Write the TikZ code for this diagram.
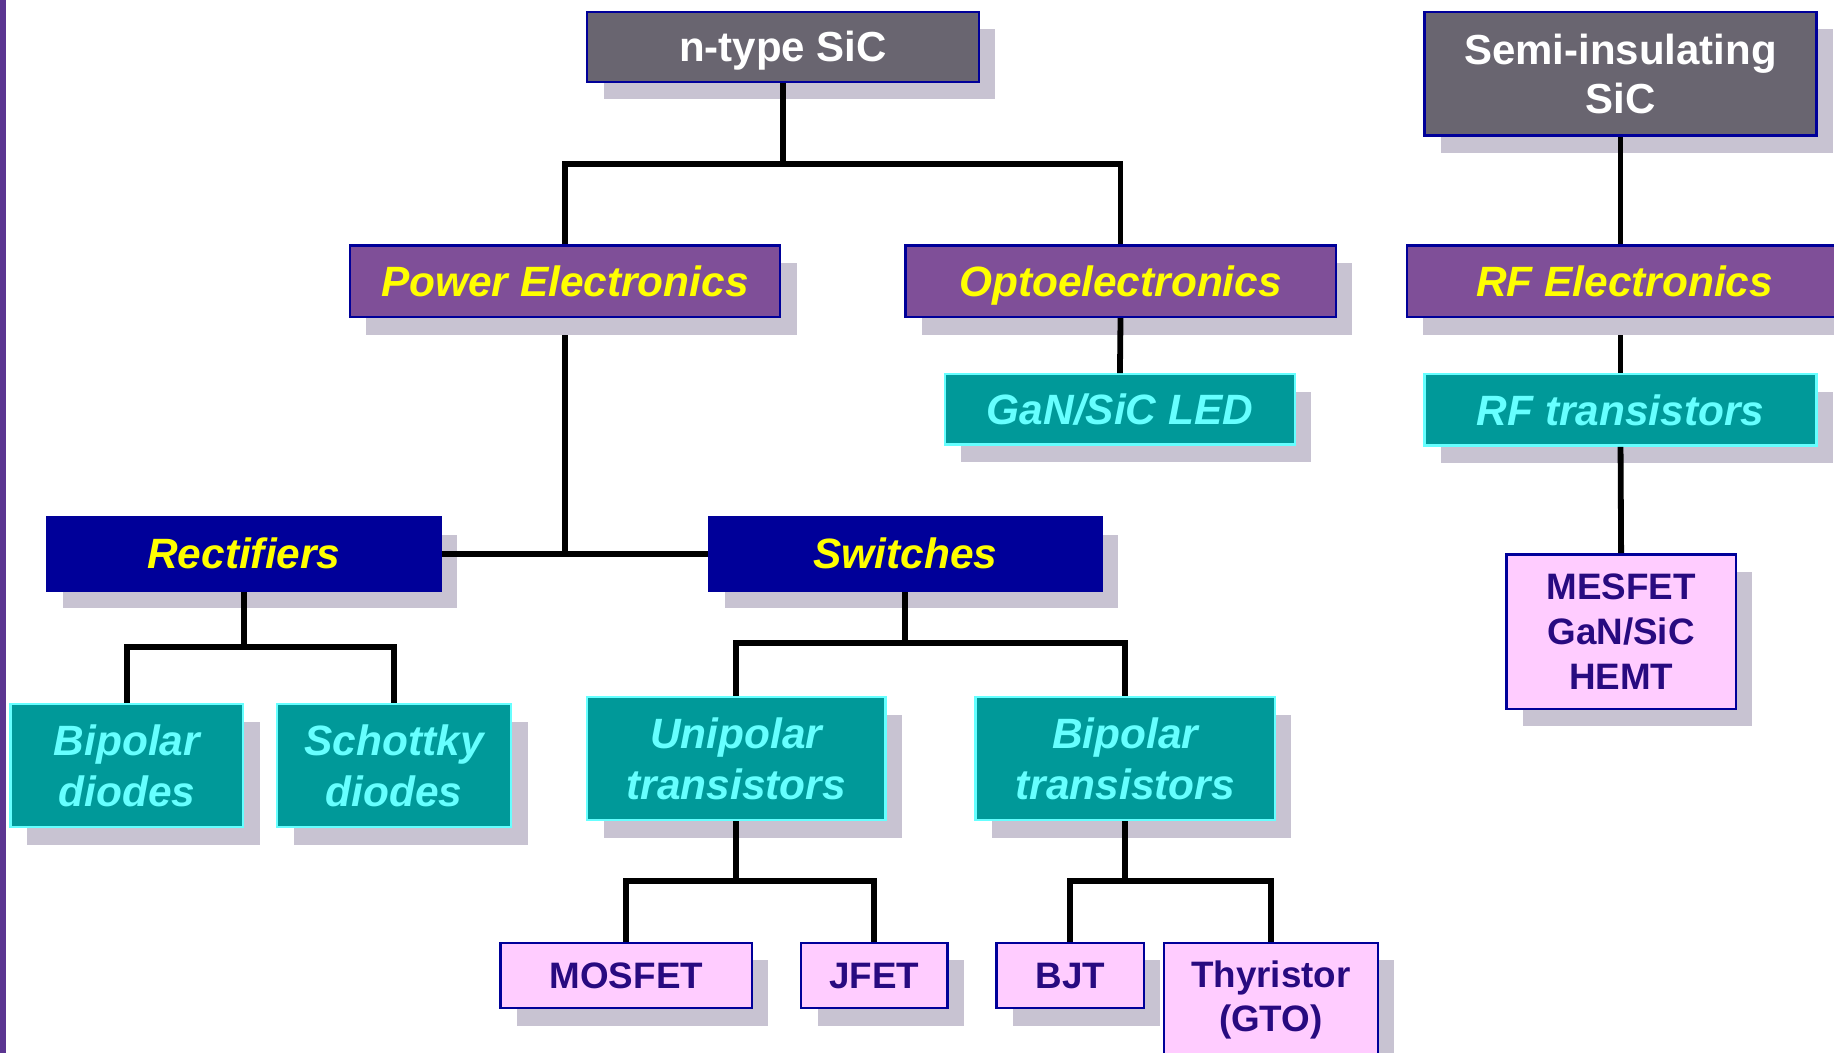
\documentclass[tikz,border=0pt]{standalone}
\usepackage{fontspec}
\setmainfont{Liberation Sans}
\usetikzlibrary{shadows}
\pgfdeclarelayer{bg}
\pgfsetlayers{bg,main}
\definecolor{boxgray}{RGB}{105,101,112}
\definecolor{boxpurple}{RGB}{127,79,152}
\definecolor{boxnavy}{RGB}{0,0,153}
\definecolor{boxteal}{RGB}{0,153,153}
\definecolor{cyantext}{RGB}{102,255,255}
\definecolor{boxpink}{RGB}{255,204,255}
\definecolor{pinktext}{RGB}{40,10,128}
\definecolor{borderblue}{RGB}{0,0,153}
\definecolor{shadowc}{RGB}{200,195,210}
\definecolor{sidebar}{RGB}{91,53,145}
\definecolor{yellowtext}{RGB}{255,255,0}
\tikzset{
  sz/.style 2 args={minimum width=#1*0.5848pt, minimum height=#2*0.5848pt},
  basebox/.style={inner sep=0pt, line width=1.2pt,
    drop shadow={shadow xshift=8.2pt, shadow yshift=-8.8pt, fill=shadowc, opacity=1, draw=none}},
  oneline/.style={text height=18.9pt, text depth=3.86pt},
  onelinesmall/.style={text height=16.56pt, text depth=3.39pt},
  multiline/.style={align=center},
  graybox/.style={basebox, draw=borderblue, fill=boxgray, text=white,
    font=\bfseries\fontsize{21}{24.6}\selectfont},
  purplebox/.style={basebox, oneline, draw=borderblue, fill=boxpurple, text=yellowtext,
    font=\bfseries\itshape\fontsize{21.2}{25.5}\selectfont},
  navybox/.style={basebox, oneline, draw=boxnavy, fill=boxnavy, text=yellowtext,
    font=\bfseries\itshape\fontsize{21.2}{25.5}\selectfont},
  tealbox/.style={basebox, draw=cyantext, fill=boxteal, text=cyantext,
    font=\bfseries\itshape\fontsize{21.2}{25.5}\selectfont},
  pinkbox/.style={basebox, draw=borderblue, fill=boxpink, text=pinktext,
    font=\bfseries\fontsize{18.4}{22.3}\selectfont},
  wire/.style={draw=black, line width=2.9pt, line join=miter},
}
\begin{document}
\begin{tikzpicture}[x=0.5848pt, y=-0.5848pt]
\useasboundingbox (0,0) rectangle (1568,900);
\fill[sidebar] (0,0) rectangle (5,900);

% top level
\node[graybox, oneline, sz={335}{60}] (ntype) at (669.5,40) {n-type SiC};
\node[graybox, multiline, sz={335}{106}] (semi) at (1385.5,63) {Semi-insulating\\SiC};

% second level
\node[purplebox, sz={368}{61}] (power) at (483,240.5) {Power Electronics};
\node[purplebox, sz={368}{61}] (opto) at (958,240.5) {Optoelectronics};
\node[purplebox, sz={372}{61}] (rfe) at (1389,240.5) {RF Electronics};

\node[tealbox, oneline, sz={299}{60}] (led) at (957.5,350) {GaN/SiC LED};
\node[tealbox, oneline, sz={335}{61}] (rft) at (1385.5,350.5) {RF transistors};

% third level
\node[navybox, sz={337}{63}] (rect) at (208.5,473.5) {Rectifiers};
\node[navybox, sz={336}{63}] (switch) at (774,473.5) {Switches};

\node[pinkbox, multiline, sz={196}{132}] (mesfet) at (1386,540) {MESFET\\GaN/SiC\\HEMT};

% fourth level
\node[tealbox, multiline, sz={199}{105}] (bipd) at (108.5,654.5) {Bipolar\\diodes};
\node[tealbox, multiline, sz={200}{105}] (schd) at (337,654.5) {Schottky\\diodes};
\node[tealbox, multiline, sz={255}{105}] (unip) at (629.5,648.5) {Unipolar\\transistors};
\node[tealbox, multiline, sz={256}{105}] (bipt) at (962,648.5) {Bipolar\\transistors};

% fifth level
\node[pinkbox, onelinesmall, sz={215}{56}] (mosfet) at (535.5,834) {MOSFET};
\node[pinkbox, onelinesmall, sz={125}{56}] (jfet) at (747.5,834) {JFET};
\node[pinkbox, onelinesmall, sz={126}{56}] (bjt) at (915,834) {BJT};
\node[pinkbox, multiline, sz={183}{98}] (thyr) at (1086.5,855) {Thyristor\\(GTO)};

% junctions
\coordinate (j1) at (669.5,140);
\coordinate (j2) at (483,473.5);
\coordinate (j3) at (208.5,553);
\coordinate (j4) at (774,550);
\coordinate (j5) at (629.5,753);
\coordinate (j6) at (962,753);

% connectors hidden under the parent's shadow
\begin{pgfonlayer}{bg}
\draw[wire] (power.south) -- (j2);
\draw[wire] (rft.north |- rfe.south) -- (rft.north);
\end{pgfonlayer}

% connectors drawn over the shadows
\draw[wire] (ntype.south) -- (j1);
\draw[wire] (power.north) |- (j1) -| (opto.north);
\draw[wire] (semi.south) -- (semi.south |- rfe.north);
\draw[wire] (opto.south) -- (led.north);
\draw[wire] (rft.south) -- (mesfet.north);
\draw[wire] (rect.east) -- (switch.west);
\draw[wire] (rect.south) -- (j3);
\draw[wire] (bipd.north) |- (j3) -| (schd.north);
\draw[wire] (switch.south) -- (j4);
\draw[wire] (unip.north) |- (j4) -| (bipt.north);
\draw[wire] (unip.south) -- (j5);
\draw[wire] (mosfet.north) |- (j5) -| (jfet.north);
\draw[wire] (bipt.south) -- (j6);
\draw[wire] (bjt.north) |- (j6) -| (thyr.north);
\end{tikzpicture}
\end{document}
